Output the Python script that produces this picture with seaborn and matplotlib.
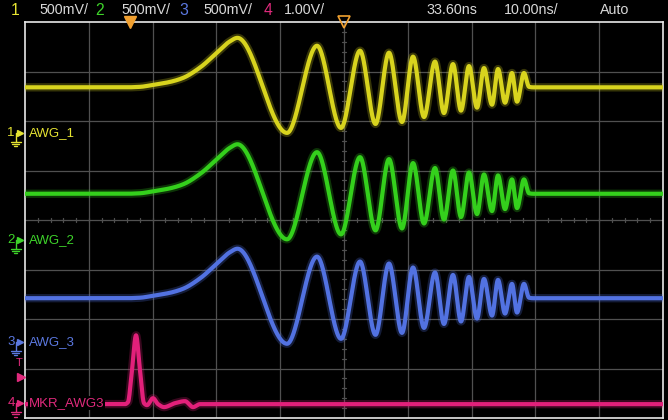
import numpy as np
import pandas as pd
import matplotlib
matplotlib.use("Agg")
import matplotlib.pyplot as plt
from matplotlib.lines import Line2D
import seaborn as sns

# ---------------- data ----------------
# time in ns (screen centre = 33.60 ns delay, 10 ns/div), values in divisions
chirp_t = [-16.4, -0.73, 1.63, 3.66, 6.33, 8.36, 11.03, 13.69, 15.73, 16.90,
           24.67, 29.37, 33.13, 36.11, 38.54, 40.65, 42.69, 44.42, 46.14, 47.86,
           49.27, 50.68, 51.94, 53.19, 54.45, 55.54, 56.80, 57.74, 58.84, 59.93,
           60.72, 61.81, 62.60, 63.22, 83.6]
chirp_amp = [0, 0, 0.01, 0.05, 0.11, 0.19, 0.40, 0.70, 0.93, 1.00,
             -0.92, 0.84, -0.82, 0.74, -0.74, 0.70, -0.70, 0.62, -0.60, 0.52,
             -0.52, 0.47, -0.47, 0.43, -0.41, 0.39, -0.35, 0.37, -0.31, 0.29,
             -0.29, 0.29, 0.01, 0.0, 0.0]
marker_t = [-16.4, -0.73, -0.26, 0.37, 1.0, 1.62, 2.25, 2.72, 3.66, 4.45,
            5.39, 7.11, 8.68, 9.93, 11.03, 83.6]
marker_amp = [0, 0, 0.04, 0.69, 1.39, 0.69, 0.02, -0.02, 0.12, 0.0,
              -0.06, 0.02, 0.06, -0.06, 0.0, 0.0]

channels = ["AWG_1", "AWG_2", "AWG_3", "MKR_AWG3"]
channel_nums = ["1", "2", "3", "4"]
baselines = [6.68, 4.53, 2.42, 0.28]        # trace baseline (div from bottom)
ground_levels = [5.76, 3.60, 1.54, 0.30]    # channel ground markers (div)
trace_colors = ["#d8d41e", "#34d01c", "#5272e2", "#e2207a"]
label_colors = ["#e6e432", "#3ed42a", "#5b78e0", "#e02a7c"]
scales = ["500mV/", "500mV/", "500mV/", "1.00V/"]
delay_ns = 33.60
time_per_div = 10.0
trigger_level_div = 0.83


def pchip(x, y, xs):
    x = np.asarray(x, float); y = np.asarray(y, float)
    h = np.diff(x); d = np.diff(y) / h
    n = len(x); m = np.zeros(n)
    for k in range(1, n - 1):
        if d[k - 1] * d[k] > 0:
            w1 = 2 * h[k] + h[k - 1]; w2 = h[k] + 2 * h[k - 1]
            m[k] = (w1 + w2) / (w1 / d[k - 1] + w2 / d[k])
    idx = np.clip(np.searchsorted(x, xs) - 1, 0, n - 2)
    t = (xs - x[idx]) / h[idx]
    h00 = 2 * t**3 - 3 * t**2 + 1; h10 = t**3 - 2 * t**2 + t
    h01 = -2 * t**3 + 3 * t**2; h11 = t**3 - t**2
    return (h00 * y[idx] + h10 * h[idx] * m[idx] + h01 * y[idx + 1]
            + h11 * h[idx] * m[idx + 1])


xmin = delay_ns - 5 * time_per_div
xmax = delay_ns + 5 * time_per_div
ts = np.linspace(xmin, xmax, 4000)
rows = []
for i, ch in enumerate(channels):
    if i < 3:
        v = pchip(chirp_t, chirp_amp, ts)
    else:
        v = pchip(marker_t, marker_amp, ts)
    rows.append(pd.DataFrame({"t": ts, "v": v + baselines[i], "channel": ch}))
df = pd.concat(rows, ignore_index=True)

# ---------------- figure ----------------
sns.set_theme(style="dark", rc={"axes.facecolor": "black",
                                "figure.facecolor": "black"})
plt.rcParams["font.family"] = ["Liberation Sans", "DejaVu Sans"]

W, H = 668, 420
fig = plt.figure(figsize=(W / 100, H / 100), dpi=100)
L, R, T, B = 25, 663, 22, 418
ax = fig.add_axes([L / W, 1 - B / H, (R - L) / W, (B - T) / H])
ax.set_facecolor("black")
ax.set_xlim(xmin, xmax)
ax.set_ylim(0, 8)
ax.set_xticks([]); ax.set_yticks([])
for s in ax.spines.values():
    s.set_color("#e8e8e8"); s.set_linewidth(1.2)

# grid
grid_c = "#505050"
for k in range(1, 10):
    ax.axvline(xmin + k * time_per_div, color=grid_c, lw=0.9, zorder=1)
for k in range(1, 8):
    ax.axhline(k, color=grid_c, lw=0.9, zorder=1)
# minor ticks on centre lines
for k in range(1, 50):
    tx = xmin + k * time_per_div / 5
    ax.plot([tx, tx], [3.95, 4.05], color=grid_c, lw=0.9, zorder=1)
for k in range(1, 40):
    ty = k * 0.2
    ax.plot([delay_ns - 0.35, delay_ns + 0.35], [ty, ty], color=grid_c, lw=0.9, zorder=1)

pal = dict(zip(channels, trace_colors))
# glow
sns.lineplot(data=df, x="t", y="v", hue="channel", palette=pal, legend=False,
             estimator=None, sort=False, linewidth=6.0, alpha=0.25, ax=ax, zorder=3)
sns.lineplot(data=df, x="t", y="v", hue="channel", palette=pal, legend=False,
             estimator=None, sort=False, linewidth=3.0, ax=ax, zorder=4)
ax.set_xlabel(""); ax.set_ylabel("")

# trigger / delay markers on top edge
orange = "#f0a030"
ax.plot([0], [8], marker="v", ms=8, color=orange, mec=orange,
        clip_on=False, zorder=6)
ax.plot([delay_ns], [8], marker="v", ms=8, mfc="none", mec=orange, mew=1.2,
        clip_on=False, zorder=6)

# channel labels inside the screen
ytr = ax.get_yaxis_transform()
for i, ch in enumerate(channels):
    ax.text(0.006, ground_levels[i], ch, transform=ytr, color=label_colors[i],
            fontsize=9.5, va="center", ha="left", zorder=7,
            bbox=dict(boxstyle="square,pad=0.05", fc="black", ec="none"))


def fx(px):
    return px / W


def fy(py):
    return 1 - py / H


# channel ground markers at left
for i in range(4):
    ypx = B - ground_levels[i] * (B - T) / 8
    c = label_colors[i]
    fig.text(fx(11), fy(ypx), channel_nums[i], color=c, fontsize=9.5,
             ha="center", va="center")
    fig.add_artist(Line2D([fx(19.5)], [fy(ypx)], marker=">", ms=5, color=c,
                          transform=fig.transFigure))
    fig.add_artist(Line2D([fx(15.5), fx(15.5), fx(19.5)],
                          [fy(ypx + 9), fy(ypx), fy(ypx)], color=c, lw=1,
                          transform=fig.transFigure))
    for j, wpx in enumerate([5, 3.5, 1.5]):
        yy = ypx + 9 + j * 2.2
        fig.add_artist(Line2D([fx(15.5 - wpx), fx(15.5 + wpx)], [fy(yy), fy(yy)],
                              color=c, lw=1, transform=fig.transFigure))

# trigger level marker
trig_px = B - trigger_level_div * (B - T) / 8
fig.text(fx(19), fy(trig_px - 14), "T", color=label_colors[3], fontsize=8,
         ha="center", va="center")
fig.add_artist(Line2D([fx(21)], [fy(trig_px)], marker=">", ms=6,
                      color=label_colors[3], transform=fig.transFigure))

# top status bar
yb = fy(10.5)
fs = 10.3
tc = "#d8d8d8"
fig.text(fx(15), yb, "1", color=label_colors[0], fontsize=fs + 1, ha="center", va="center")
fig.text(fx(39), yb, scales[0], color=tc, fontsize=fs, ha="left", va="center")
fig.text(fx(100), yb, "2", color=label_colors[1], fontsize=fs + 1, ha="center", va="center")
fig.text(fx(121), yb, scales[1], color=tc, fontsize=fs, ha="left", va="center")
fig.text(fx(184), yb, "3", color=label_colors[2], fontsize=fs + 1, ha="center", va="center")
fig.text(fx(203), yb, scales[2], color=tc, fontsize=fs, ha="left", va="center")
fig.text(fx(268), yb, "4", color=label_colors[3], fontsize=fs + 1, ha="center", va="center")
fig.text(fx(284), yb, scales[3], color=tc, fontsize=fs, ha="left", va="center")
fig.text(fx(426), yb, f"{delay_ns:.2f}ns", color=tc, fontsize=fs, ha="left", va="center")
fig.text(fx(504), yb, f"{time_per_div:.2f}ns/", color=tc, fontsize=fs, ha="left", va="center")
fig.text(fx(600), yb, "Auto", color=tc, fontsize=fs, ha="left", va="center")

fig.savefig("out.png", dpi=100, facecolor="black")
